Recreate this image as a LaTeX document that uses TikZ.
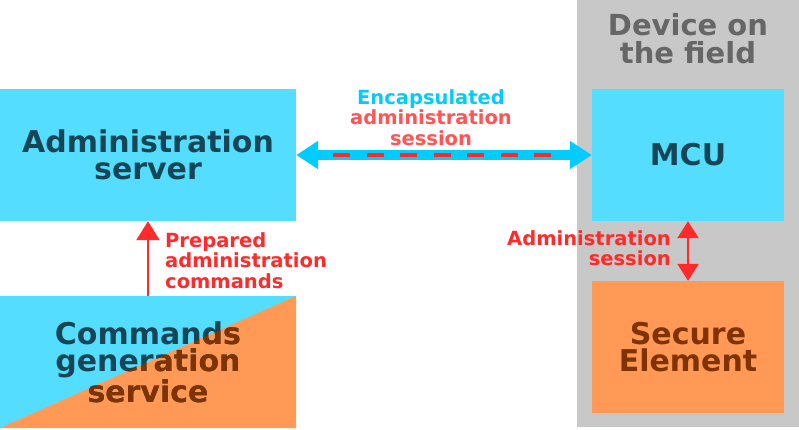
\documentclass[tikz,border=0pt]{standalone}
\usepackage{fontspec}
\setmainfont{DejaVu Sans}
\usetikzlibrary{arrows.meta}
\definecolor{boxcyan}{HTML}{55DDFF}
\definecolor{boxorange}{HTML}{FF9955}
\definecolor{panelgray}{HTML}{C8C8C8}
\definecolor{darkteal}{HTML}{164655}
\definecolor{darkbrown}{HTML}{803300}
\definecolor{linkcyan}{HTML}{00CCFF}
\definecolor{linkred}{HTML}{FF2A2A}
\definecolor{salmon}{HTML}{FF5555}
\definecolor{fieldgray}{HTML}{666666}
\begin{document}
\begin{tikzpicture}[x=1pt,y=-1pt,
    block/.style={minimum width=#1, minimum height=132pt, inner sep=0pt, align=center,
      font=\fontsize{30}{27.5}\selectfont\bfseries},
    block/.default=296pt,
    small/.style={inner sep=0pt, font=\fontsize{19.5}{20.5}\selectfont\bfseries}]
    \useasboundingbox (0,0) rectangle (799,429);
    \fill[panelgray] (577,0) rectangle (799,427);
    \node[inner sep=0pt, text=fieldgray, font=\fontsize{29}{28}\selectfont\bfseries, align=center, anchor=north] (field) at (688,13) {Device on\\the field};
    \node[block, fill=boxcyan, text=darkteal] (server) at (148,155) {Administration\\server};
    \node[block, fill=boxcyan, text=darkteal, path picture={\fill[boxorange] (path picture bounding box.south west) -- (path picture bounding box.north east) |- cycle;}] (commands) at (148,362) {Commands\\generation\\service};
    \begin{scope}
    \clip (commands.south west) -- (commands.north east) |- cycle;
    \node[block, text=darkbrown] (commandsb) at (commands.center) {Commands\\generation\\service};
    \end{scope}
    \node[block=192pt, fill=boxcyan, text=darkteal] (mcu) at (688,155) {MCU};
    \node[block=192pt, fill=boxorange, text=darkbrown] (se) at (688,347) {Secure\\Element};
    % links
    \draw[linkcyan, line width=10pt, {Triangle[length=22pt,width=27pt]}-{Triangle[length=22pt,width=27pt]}] (server.east) -- (mcu.west);
    \draw[linkred, line width=4pt, dash pattern=on 17pt off 16.5pt] ([xshift=37pt]server.east) -- ([xshift=-41pt]mcu.west);
    \draw[linkred, line width=2.5pt, -{Triangle[length=19pt,width=23pt]}] (commands.north) -- (server.south);
    \draw[linkred, line width=2.5pt, {Triangle[length=17pt,width=21pt]}-{Triangle[length=17pt,width=21pt]}] (mcu.south) -- (se.north);
    \node[small, text=linkred, align=left, anchor=north west] (prepared) at (165,232) {Prepared\\administration\\commands};
    \node[small, text=salmon, align=center, anchor=north] (encap) at (431,89) {\textcolor{linkcyan}{Encapsulated}\\administration\\session};
    \node[small, text=linkred, align=right, anchor=north east] (session) at (671,230) {Administration\\session};
\end{tikzpicture}
\end{document}
